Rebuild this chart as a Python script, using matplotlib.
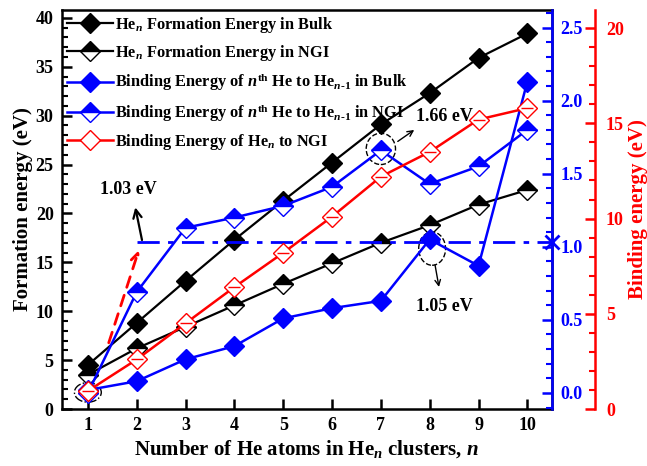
import numpy as np
import matplotlib.pyplot as plt
from matplotlib.patches import Ellipse
from matplotlib.ticker import MultipleLocator

plt.rcParams['font.family'] = 'Liberation Serif'
plt.rcParams['font.weight'] = 'bold'
plt.rcParams['axes.labelweight'] = 'bold'
plt.rcParams['mathtext.fontset'] = 'custom'
plt.rcParams['mathtext.rm'] = 'Liberation Serif:bold'
plt.rcParams['mathtext.it'] = 'Liberation Serif:bold:italic'
plt.rcParams['mathtext.bf'] = 'Liberation Serif:bold'

# data
n = [1, 2, 3, 4, 5, 6, 7, 8, 9, 10]
form_bulk = [4.5, 8.8, 13.1, 17.3, 21.3, 25.2, 29.1, 32.3, 35.9, 38.4]
form_ngi = [3.5, 6.2, 8.4, 10.6, 12.8, 14.9, 17.0, 18.8, 20.9, 22.4]
bind_bulk = [0.02, 0.08, 0.23, 0.32, 0.51, 0.58, 0.63, 1.05, 0.87, 2.13]
bind_ngi = [0.0, 0.69, 1.13, 1.20, 1.28, 1.41, 1.66, 1.43, 1.55, 1.80]
bind_hen_ngi = [0.95, 2.6, 4.5, 6.4, 8.2, 10.1, 12.2, 13.5, 15.2, 15.8]
ref_level = 1.03

blue = '#0000FF'
red = '#FF0000'

fig = plt.figure(figsize=(6.47, 4.66), dpi=100)
ax = fig.add_axes([0.0958, 0.1223, 0.757, 0.8562])
ax2 = ax.twinx()
ax3 = ax.twinx()

ms = 10
h1, = ax.plot(n, form_bulk, '-D', color='k', lw=1.6, ms=ms, mfc='k', mec='k',
              label=r'He$_{n}$ Formation Energy in Bulk')
h2, = ax.plot(n, form_ngi, '-D', color='k', lw=1.6, ms=ms, mfc='k', mec='k',
              fillstyle='top', markerfacecoloralt='white',
              label=r'He$_{n}$ Formation Energy in NGI')
h3, = ax2.plot(n, bind_bulk, '-D', color=blue, lw=1.8, ms=ms, mfc=blue, mec=blue,
               label=r'Binding Energy of $n^{\mathrm{th}}$ He to He$_{n\text{-}1}$ in Bulk')
h4, = ax2.plot(n, bind_ngi, '-D', color=blue, lw=1.8, ms=ms, mfc=blue, mec=blue,
               fillstyle='top', markerfacecoloralt='white',
               label=r'Binding Energy of $n^{\mathrm{th}}$ He to He$_{n\text{-}1}$ in NGI')
h5, = ax3.plot(n, bind_hen_ngi, '-D', color=red, lw=1.8, ms=ms, mfc='white', mec=red,
               label=r'Binding Energy of He$_{n}$ to NGI')
# half line inside the open red diamonds
ax3.plot(n, bind_hen_ngi, '_', color=red, ms=ms * 0.9, mew=1.0)

ax.set_xlim(0.47, 10.5)
ax.set_ylim(0, 40.8)
ax2.set_ylim(-0.11, 2.62)
ax3.set_ylim(0, 20.95)

# 1.03 eV reference
ax2.plot([2, 10.5], [ref_level, ref_level], color=blue, lw=2,
         linestyle=(0, (8, 3, 2, 3)))
ax2.plot([10.5], [ref_level], 'x', color=blue, ms=10, mew=2, clip_on=False)

# annotations (left-axis data coords)
ax.annotate('', xy=(2.06, 16.5), xytext=(1.41, 6.5),
            arrowprops=dict(arrowstyle='->', color=red, lw=2, linestyle=(0, (4, 3)),
                            mutation_scale=15))
ax.annotate('', xy=(1.96, 20.9), xytext=(2.12, 17.0),
            arrowprops=dict(arrowstyle='->', color='k', lw=1.6, mutation_scale=15))
ax.text(1.82, 22.4, '1.03 eV', fontsize=13, ha='center', va='center')

ax.annotate('', xy=(7.73, 28.7), xytext=(7.3, 27.2),
            arrowprops=dict(arrowstyle='->', color='k', lw=1, mutation_scale=10))
ax.text(8.3, 29.9, '1.66 eV', fontsize=13, ha='center', va='center')

ax.annotate('', xy=(8.20, 12.2), xytext=(8.10, 15.0),
            arrowprops=dict(arrowstyle='->', color='k', lw=1, mutation_scale=10))
ax.text(8.30, 10.5, '1.05 eV', fontsize=13, ha='center', va='center')

ax.add_patch(Ellipse((7.0, 26.6), 0.6, 3.2, fill=False, ec='k', lw=1, ls='--', zorder=5))
ax.add_patch(Ellipse((8.05, 16.4), 0.55, 3.4, fill=False, ec='k', lw=1, ls='--', zorder=5))
ax.add_patch(Ellipse((1.0, 1.7), 0.55, 2.0, fill=False, ec='k', lw=1, ls='-.', zorder=5))

# spines and ticks
for a in (ax, ax2, ax3):
    for s in a.spines.values():
        s.set_linewidth(1.8)
ax2.spines['left'].set_visible(False)
ax3.spines['left'].set_visible(False)
ax2.spines['right'].set_color(blue)
ax3.spines['right'].set_color(red)
ax3.spines['right'].set_position(('outward', 31))
for a in (ax2, ax3):
    a.spines['top'].set_visible(False)
    a.spines['bottom'].set_visible(False)

ax.set_xticks(n)
ax.yaxis.set_major_locator(MultipleLocator(5))
ax.yaxis.set_minor_locator(MultipleLocator(1))
ax2.yaxis.set_major_locator(MultipleLocator(0.5))
ax2.yaxis.set_minor_locator(MultipleLocator(0.1))
ax2.yaxis.set_major_formatter(plt.FormatStrFormatter('%.1f'))
ax3.yaxis.set_major_locator(MultipleLocator(5))
ax3.yaxis.set_minor_locator(MultipleLocator(1))

ax.tick_params(axis='x', which='both', direction='in', length=7, width=1.8,
               labelsize=13, top=False, pad=6)
ax.tick_params(axis='y', which='major', direction='in', length=7, width=1.8,
               labelsize=13, right=False, pad=6)
ax.tick_params(axis='y', which='minor', direction='in', length=4, width=1.5, right=False)
ax2.tick_params(axis='y', which='major', direction='in', length=7, width=1.8,
                labelsize=13, colors=blue, pad=6)
ax2.tick_params(axis='y', which='minor', direction='in', length=4, width=1.5, colors=blue)
ax3.tick_params(axis='y', which='major', direction='in', length=7, width=1.8,
                labelsize=13, colors=red, pad=8)
ax3.tick_params(axis='y', which='minor', direction='in', length=4, width=1.5, colors=red)

ax.set_ylabel('Formation energy (eV)', fontsize=15, fontweight='bold', labelpad=2)
ax.set_xlabel(r'Number of He atoms in He$_{n}$ clusters, $n$', fontsize=15,
              fontweight='bold', labelpad=3)
ax3.set_ylabel('Binding energy (eV)', fontsize=15, fontweight='bold', color=red,
               labelpad=3)

ax3.legend(handles=[h1, h2, h3, h4, h5], loc='upper left', frameon=False,
           prop={'size': 11.8, 'weight': 'bold'}, handlelength=2.8, labelspacing=0.5,
           borderaxespad=0.1, handletextpad=0.15, borderpad=0.2)

fig.savefig('out.png', dpi=100)
